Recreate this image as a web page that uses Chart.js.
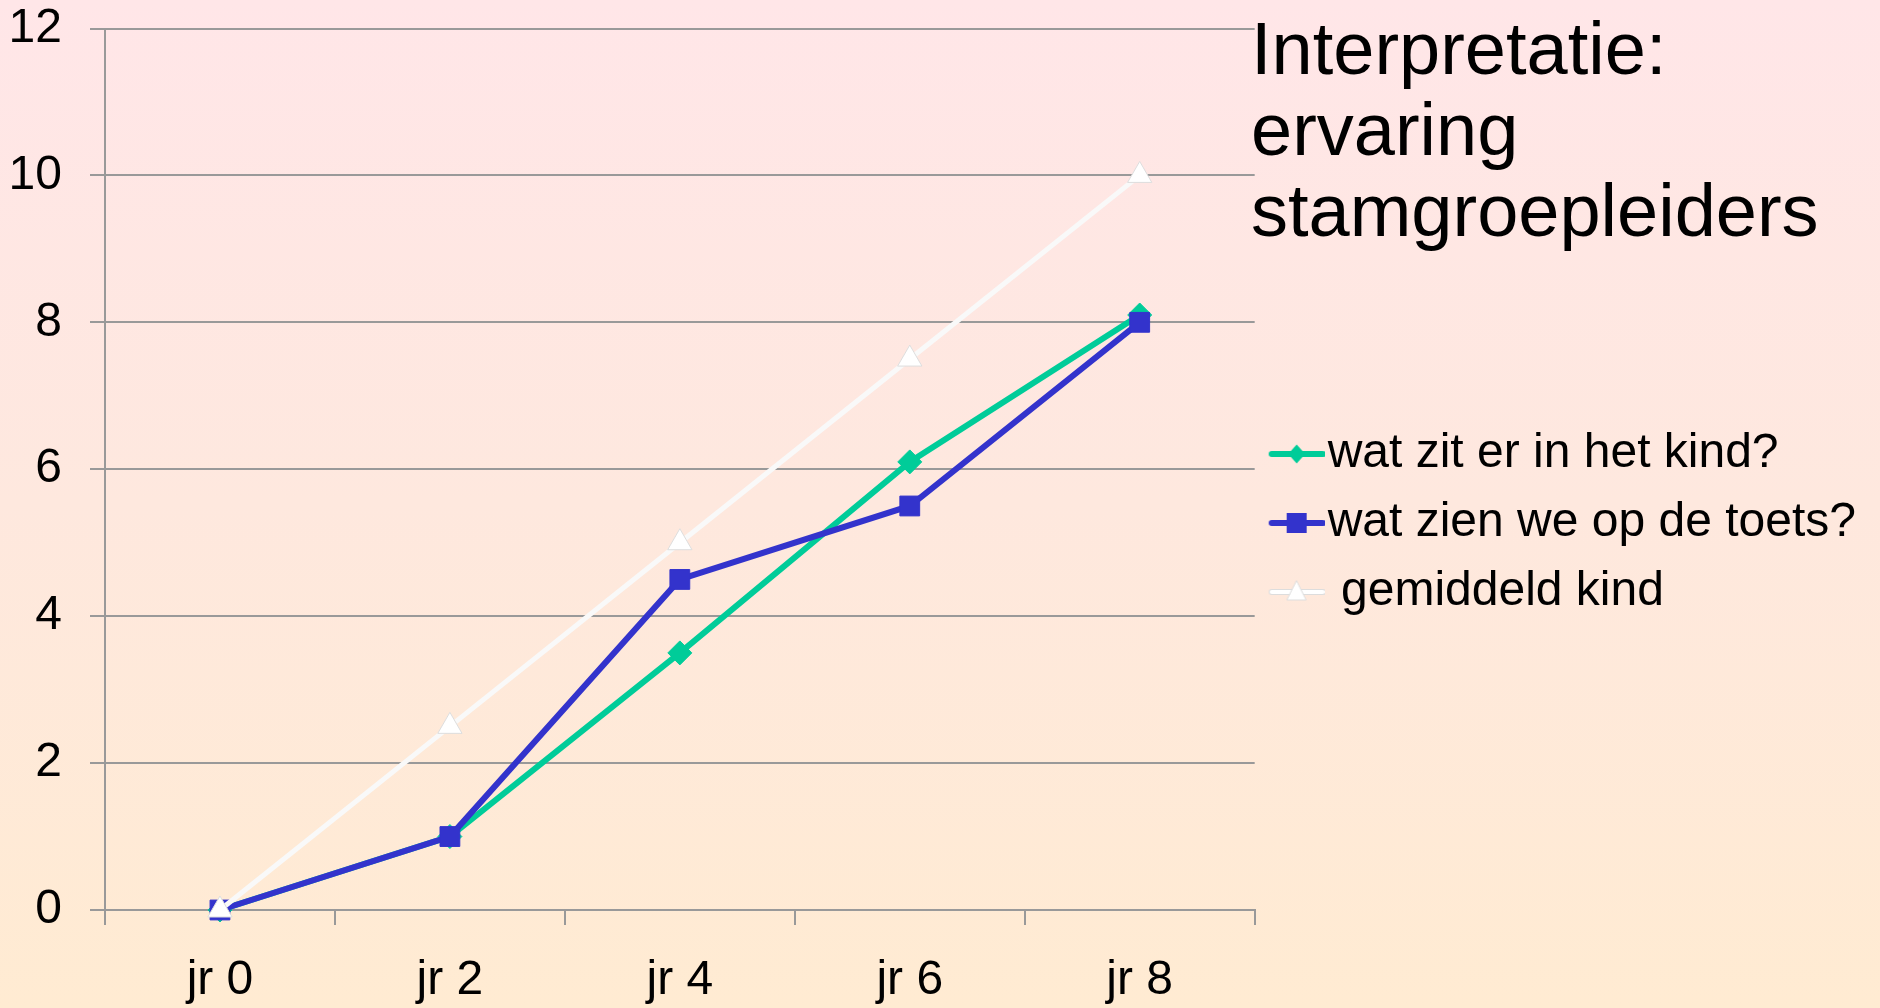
<!DOCTYPE html>
<html><head><meta charset="utf-8">
<script src="https://cdn.jsdelivr.net/npm/chart.js@4"></script>
<style>
html,body{margin:0;padding:0;width:1880px;height:1008px;overflow:hidden;}
body{background:linear-gradient(to bottom,#FFE6E8 0%,#FEE8DE 50%,#FFEBD2 100%);}
#wrap{position:relative;width:1880px;height:1008px;}
#c{position:absolute;left:0;top:0;width:1880px;height:1008px;}
#title{position:absolute;left:1251px;top:8px;font:74px/81px 'Liberation Sans',Arial,sans-serif;color:#000;white-space:nowrap;pointer-events:none;}
</style></head>
<body><div id="wrap"><canvas id="c" width="1880" height="1008"></canvas><div id="title">Interpretatie:<br>ervaring<br>stamgroepleiders</div></div>
<script>
const categories = ['jr 0', 'jr 2', 'jr 4', 'jr 6', 'jr 8'];
const seriesNames = ['wat zit er in het kind?', 'wat zien we op de toets?', ' gemiddeld kind'];
const kindValues = [0, 1, 3.5, 6.1, 8.1];
const toetsValues = [0, 1, 4.5, 5.5, 8];
const gemiddeldValues = [0, 2.5, 5, 7.5, 10];
const yTickValues = [0, 2, 4, 6, 8, 10, 12];

const GREEN = '#00CC99', BLUE = '#3333CC', WHITE = '#F9F9F9';
const FONT = "'Liberation Sans', Arial, sans-serif";

function legendSymbol(kind) {
  const c = document.createElement('canvas');
  c.width = 70; c.height = 30;
  const g = c.getContext('2d');
  const cy = 15, x0 = 17, x1 = 68, mx = 42;
  g.lineCap = 'round';
  if (kind === 'tri') {
    g.strokeStyle = '#dddddd'; g.lineWidth = 6;
    g.beginPath(); g.moveTo(x0, cy); g.lineTo(x1, cy); g.stroke();
    g.strokeStyle = '#ffffff'; g.lineWidth = 4;
    g.beginPath(); g.moveTo(x0, cy); g.lineTo(x1, cy); g.stroke();
  } else {
    g.strokeStyle = kind === 'diamond' ? GREEN : BLUE; g.lineWidth = 6;
    g.beginPath(); g.moveTo(x0, cy); g.lineTo(x1, cy); g.stroke();
  }
  g.beginPath();
  if (kind === 'diamond') {
    g.fillStyle = GREEN;
    g.moveTo(mx, cy - 9.5); g.lineTo(mx + 8.5, cy); g.lineTo(mx, cy + 9.5); g.lineTo(mx - 8.5, cy); g.closePath(); g.fill();
  } else if (kind === 'square') {
    g.fillStyle = BLUE; g.fillRect(mx - 10, cy - 10, 20, 20);
  } else {
    g.fillStyle = '#ffffff'; g.strokeStyle = '#dddddd'; g.lineWidth = 1;
    g.moveTo(mx, cy - 11); g.lineTo(mx + 9.5, cy + 8); g.lineTo(mx - 9.5, cy + 8); g.closePath(); g.fill(); g.stroke();
  }
  return c;
}
const symbols = [legendSymbol('diamond'), legendSymbol('square'), legendSymbol('tri')];

// let the right-hand legend take the width it needs
const wideLegend = {
  id: 'wideLegend',
  beforeLayout(chart) {
    const leg = chart.legend;
    if (leg && !leg._wideWrapped) {
      const orig = leg.update;
      leg.update = function (maxWidth, maxHeight, margins) {
        return orig.call(this, Math.max(maxWidth, 700), maxHeight, margins);
      };
      leg._wideWrapped = true;
    }
  }
};

Chart.defaults.font.family = FONT;
Chart.defaults.color = '#000';

new Chart(document.getElementById('c'), {
  type: 'line',
  data: {
    labels: categories,
    datasets: [
      { label: seriesNames[0], data: kindValues, borderColor: GREEN, backgroundColor: GREEN, borderWidth: 6,
        pointStyle: 'rectRot', pointRadius: 12, pointBorderWidth: 1, pointBackgroundColor: GREEN, pointBorderColor: GREEN,
        tension: 0, clip: false, order: 3 },
      { label: seriesNames[1], data: toetsValues, borderColor: BLUE, backgroundColor: BLUE, borderWidth: 6,
        pointStyle: 'rect', pointRadius: 14, pointBorderWidth: 1, pointBackgroundColor: BLUE, pointBorderColor: BLUE,
        tension: 0, clip: false, order: 2 },
      { label: seriesNames[2], data: gemiddeldValues, borderColor: WHITE, backgroundColor: '#fff', borderWidth: 5,
        pointStyle: 'triangle', pointRadius: 14, pointBorderWidth: 1, pointBackgroundColor: '#ffffff', pointBorderColor: '#dddddd',
        tension: 0, clip: false, order: 1 }
    ]
  },
  plugins: [wideLegend],
  options: {
    responsive: false,
    animation: false,
    devicePixelRatio: 1,
    layout: { padding: { top: 0, right: 14, bottom: 0, left: 0 } },
    plugins: {
      tooltip: { enabled: false },
      title: { display: false },
      legend: {
        position: 'right',
        align: 'center',
        title: { display: true, text: '', font: { size: 10 }, padding: { top: 13, bottom: 13 } },
        labels: {
          usePointStyle: true,
          pointStyleWidth: 28,
          padding: 21,
          font: { size: 48, family: FONT },
          color: '#000',
          generateLabels: (chart) => chart.data.datasets.map((ds, i) => ({
            text: ds.label,
            pointStyle: symbols[i],
            fillStyle: ds.borderColor,
            strokeStyle: ds.borderColor,
            lineWidth: 0,
            hidden: false,
            datasetIndex: i
          }))
        }
      }
    },
    scales: {
      x: {
        type: 'category',
        offset: true,
        grid: { offset: true, drawOnChartArea: false, drawTicks: true, tickLength: 15, color: '#999999', lineWidth: 2 },
        border: { display: true, color: '#999999', width: 2 },
        ticks: { font: { size: 48 }, padding: 27, color: '#000' },
        afterFit: (s) => { s.height = 98; }
      },
      y: {
        min: 0, max: 12,
        afterBuildTicks: (s) => { s.ticks = yTickValues.map(v => ({ value: v })); },
        grid: { drawTicks: true, tickLength: 15, color: '#999999', lineWidth: 2 },
        border: { display: true, color: '#999999', width: 2 },
        ticks: { font: { size: 48 }, padding: 28, color: '#000' },
        afterFit: (s) => { s.width = 105; s.paddingTop = 28.5; s.paddingBottom = 0; }
      }
    }
  }
});
</script>
</body></html>
